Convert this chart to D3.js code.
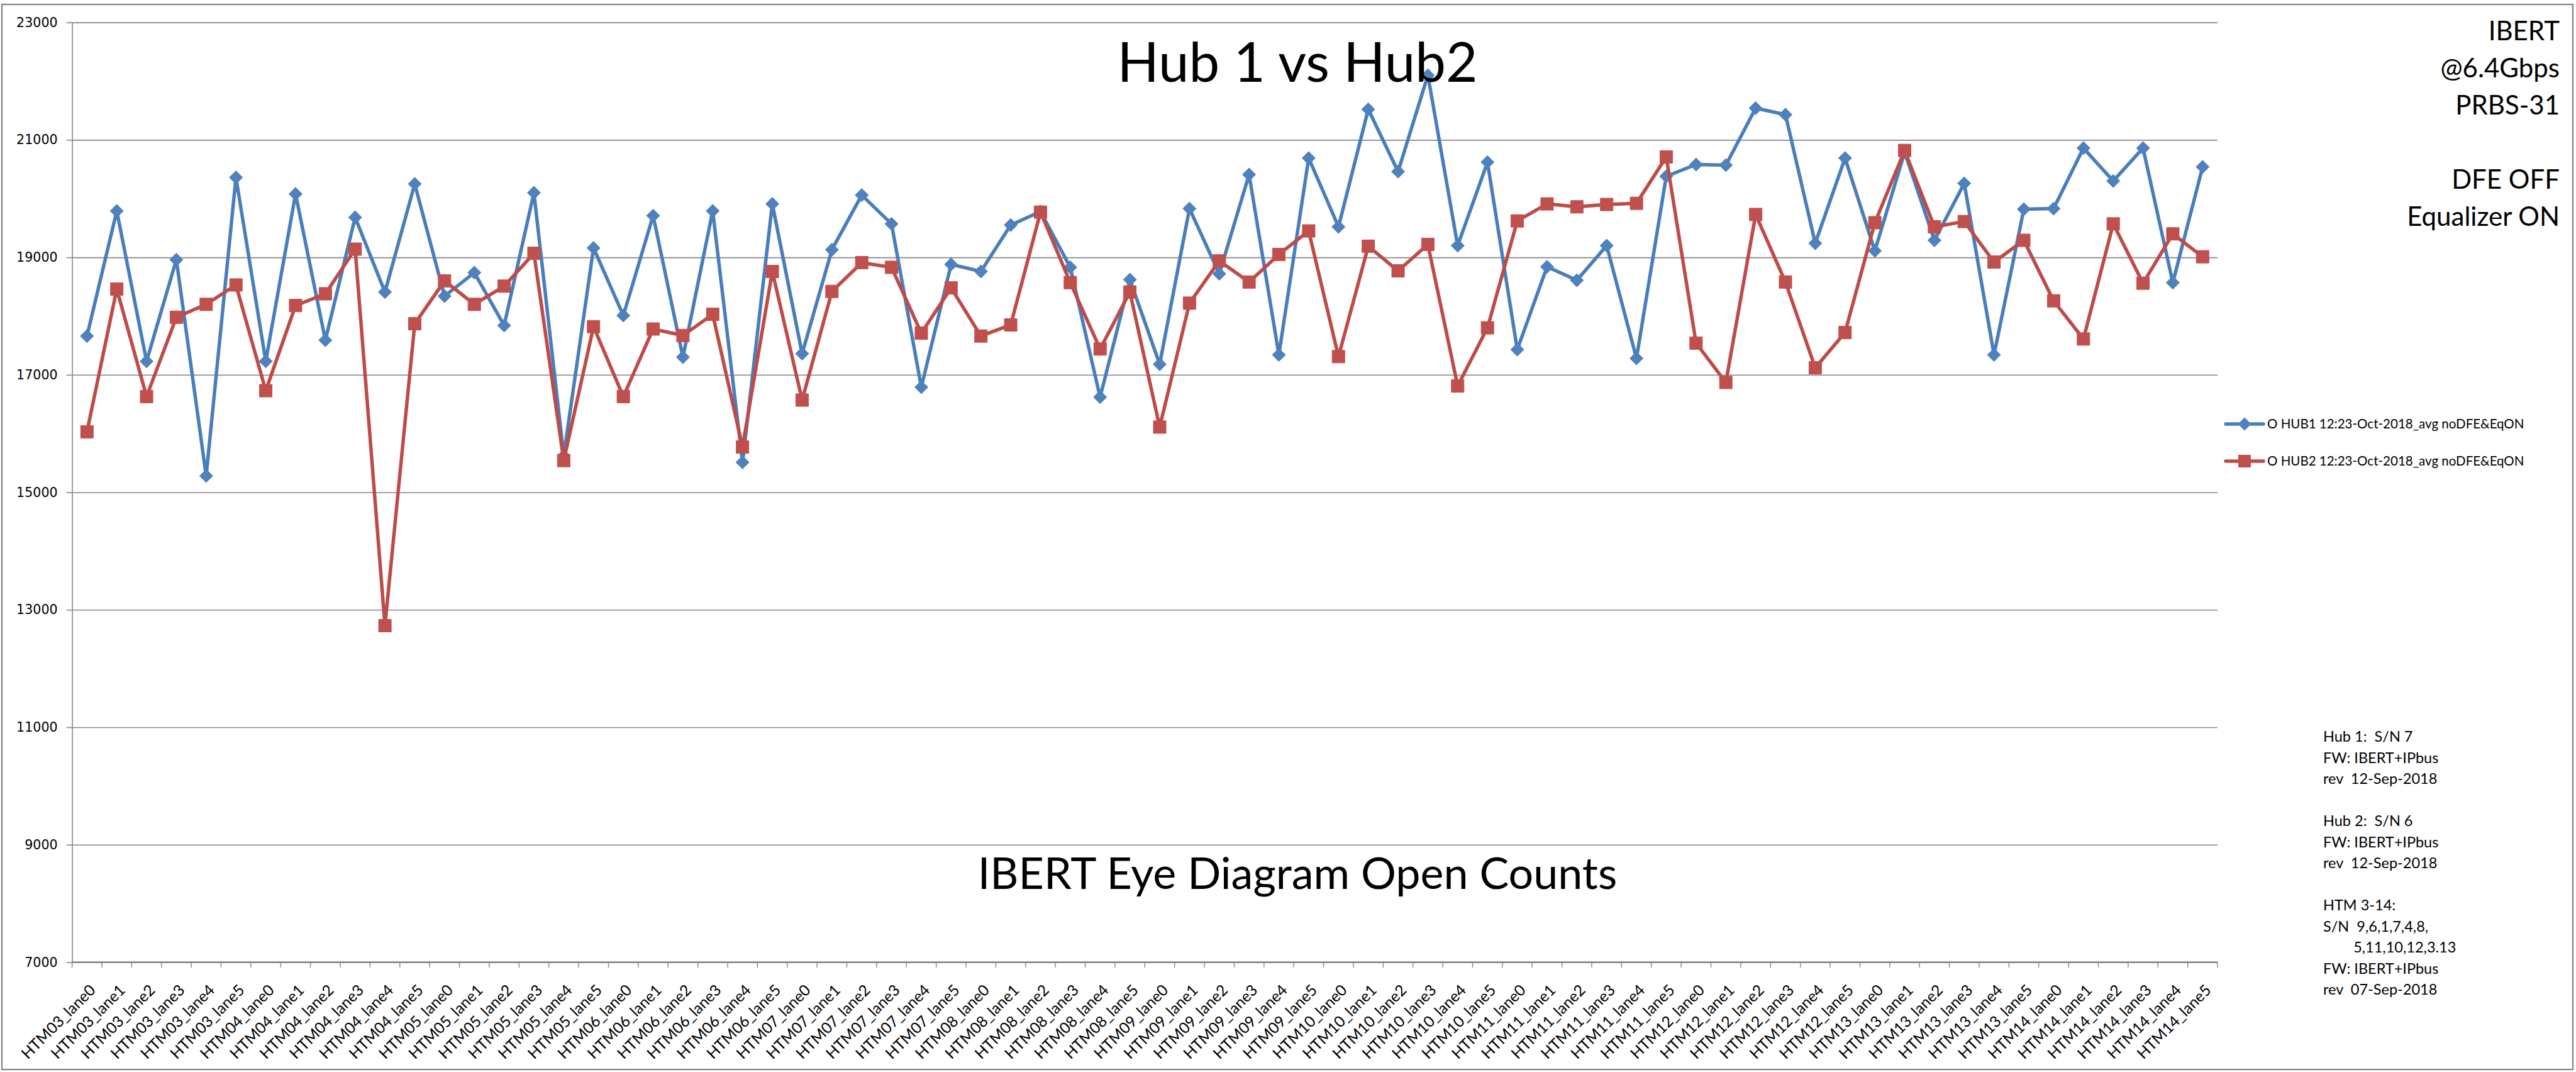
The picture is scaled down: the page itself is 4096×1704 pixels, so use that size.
<!DOCTYPE html>
<html>
<head>
<meta charset="utf-8">
<script src="https://cdn.jsdelivr.net/npm/d3@7"></script>
<style>
  html, body { margin: 0; padding: 0; background: #fff; }
  svg { display: block; }
  text { white-space: pre; }
</style>
</head>
<body>
<div id="chart"></div>
<script>
// ---- data ----
const modules = ["HTM03", "HTM04", "HTM05", "HTM06", "HTM07", "HTM08", "HTM09", "HTM10", "HTM11", "HTM12", "HTM13", "HTM14"];
const lanes = ["lane0", "lane1", "lane2", "lane3", "lane4", "lane5"];
const categories = modules.flatMap((m) => lanes.map((l) => `${m}_${l}`));

const hub1 = [
  17660, 19790, 17230, 18960, 15280, 20360,
  17230, 20080, 17590, 19680, 18410, 20250,
  18340, 18740, 17840, 20100, 15620, 19160,
  18010, 19710, 17300, 19790, 15510, 19910,
  17360, 19130, 20060, 19570, 16790, 18880,
  18760, 19550, 19780, 18830, 16620, 18620,
  17180, 19830, 18720, 20410, 17340, 20690,
  19520, 21520, 20460, 22100, 19200, 20620,
  17430, 18840, 18610, 19200, 17280, 20380,
  20580, 20570, 21540, 21430, 19240, 20690,
  19110, 20790, 19290, 20260, 17340, 19820,
  19830, 20860, 20300, 20860, 18570, 20540
];

const hub2 = [
  16030, 18460, 16630, 17980, 18200, 18530,
  16730, 18180, 18380, 19140, 12730, 17870,
  18600, 18200, 18510, 19070, 15540, 17820,
  16630, 17780, 17670, 18030, 15770, 18760,
  16570, 18420, 18910, 18830, 17710, 18480,
  17660, 17850, 19770, 18570, 17440, 18410,
  16110, 18220, 18940, 18580, 19050, 19450,
  17310, 19190, 18770, 19220, 16810, 17800,
  19620, 19910, 19860, 19900, 19920, 20710,
  17540, 16870, 19730, 18580, 17120, 17720,
  19590, 20820, 19520, 19610, 18920, 19290,
  18260, 17610, 19570, 18560, 19400, 19010
];

const yTicks = [7000, 9000, 11000, 13000, 15000, 17000, 19000, 21000, 23000];
const seriesNames = [
  "O HUB1 12:23-Oct-2018_avg noDFE&EqON",
  "O HUB2 12:23-Oct-2018_avg noDFE&EqON"
];
const titleText = "Hub 1 vs Hub2";
const subtitleText = "IBERT Eye Diagram Open Counts";
const noteTop = ["IBERT", "@6.4Gbps", "PRBS-31", "", "DFE OFF", "Equalizer ON"];
const noteBottom = [
  "Hub 1:  S/N 7", "FW: IBERT+IPbus", "rev  12-Sep-2018", "",
  "Hub 2:  S/N 6", "FW: IBERT+IPbus", "rev  12-Sep-2018", "",
  "HTM 3-14:", "S/N  9,6,1,7,4,8,", "        5,11,10,12,3.13", "FW: IBERT+IPbus", "rev  07-Sep-2018"
];

// ---- layout ----
const width = 4096;
const height = 1704;
const plot = { left: 114.6, right: 3526, top: 35.6, bottom: 1529.5 };
const gridColor = "#868686";
const textFont = "Lato, 'Open Sans', sans-serif";
const colors = [
  { line: "#4A7EBB", marker: "#4F81BD" },
  { line: "#BE4B48", marker: "#C0504D" }
];

// diamond drawn as a square turned 45 degrees, like the spreadsheet marker
const diamond = {
  draw(ctx, size) {
    const r = Math.sqrt(size / 2);
    ctx.moveTo(0, -r);
    ctx.lineTo(r, 0);
    ctx.lineTo(0, r);
    ctx.lineTo(-r, 0);
    ctx.closePath();
  }
};
const symbols = [d3.symbol(diamond, 2 * 10.5 * 10.5), d3.symbol(d3.symbolSquare, 20 * 20)];

const svg = d3
  .select("#chart")
  .append("svg")
  .attr("width", width)
  .attr("height", height);

svg.append("rect").attr("width", width).attr("height", height).attr("fill", "#fff");

// outer chart border
svg
  .append("rect")
  .attr("x", 3)
  .attr("y", 7)
  .attr("width", 4088)
  .attr("height", 1693)
  .attr("fill", "none")
  .attr("stroke", gridColor)
  .attr("stroke-width", 2.3);

const x = d3.scaleBand().domain(categories).range([plot.left, plot.right]);
const y = d3.scaleLinear().domain([7000, 23000]).range([plot.bottom, plot.top]);
const cx = (c) => x(c) + x.bandwidth() / 2;

// gridlines
svg
  .append("g")
  .attr("transform", `translate(${plot.left},0)`)
  .call(d3.axisLeft(y).tickValues(yTicks).tickSize(-(plot.right - plot.left)).tickFormat(""))
  .call((g) => g.select(".domain").remove())
  .selectAll("line")
  .attr("stroke", gridColor)
  .attr("stroke-width", 1.6);

// y axis
svg
  .append("g")
  .attr("transform", `translate(${plot.left},0)`)
  .call(d3.axisLeft(y).tickValues(yTicks).tickSize(9).tickSizeOuter(0).tickPadding(14).tickFormat(d3.format("d")))
  .call((g) => g.select(".domain").attr("stroke", gridColor).attr("stroke-width", 1.6))
  .call((g) => g.selectAll(".tick line").attr("stroke", gridColor).attr("stroke-width", 1.6))
  .call((g) =>
    g
      .selectAll(".tick text")
      .attr("font-family", "'DejaVu Sans', Verdana, sans-serif")
      .attr("font-size", 20.6)
      .attr("fill", "#000")
  );

// x axis line and tick marks at the category edges
svg
  .append("line")
  .attr("x1", plot.left)
  .attr("x2", plot.right)
  .attr("y1", plot.bottom)
  .attr("y2", plot.bottom)
  .attr("stroke", gridColor)
  .attr("stroke-width", 2.4);

svg
  .append("g")
  .selectAll("line")
  .data(categories.map((c) => x(c)).concat([plot.right]))
  .join("line")
  .attr("x1", (d) => d)
  .attr("x2", (d) => d)
  .attr("y1", plot.bottom)
  .attr("y2", plot.bottom + 8.5)
  .attr("stroke", gridColor)
  .attr("stroke-width", 1.4);

// x labels, turned 45 degrees
svg
  .append("g")
  .attr("transform", `translate(0,${plot.bottom})`)
  .call(d3.axisBottom(x).tickSize(0))
  .call((g) => g.select(".domain").remove())
  .selectAll(".tick text")
  .attr("x", null)
  .attr("y", null)
  .attr("dy", null)
  .attr("text-anchor", "end")
  .attr("transform", "translate(15,46) rotate(-45)")
  .attr("font-family", textFont)
  .attr("font-size", 24.5)
  .attr("fill", "#000");

// series
const series = [hub1, hub2];
const line = d3
  .line()
  .x((d, i) => cx(categories[i]))
  .y((d) => y(d));

series.forEach((values, s) => {
  svg
    .append("path")
    .datum(values)
    .attr("fill", "none")
    .attr("stroke", colors[s].line)
    .attr("stroke-width", 5.5)
    .attr("stroke-linejoin", "round")
    .attr("d", line);

  svg
    .append("g")
    .selectAll("path")
    .data(values)
    .join("path")
    .attr("transform", (d, i) => `translate(${cx(categories[i])},${y(d)})`)
    .attr("d", symbols[s])
    .attr("fill", colors[s].marker)
    .attr("stroke", colors[s].marker)
    .attr("stroke-width", 1);
});

// legend
const legend = svg
  .append("g")
  .selectAll("g")
  .data(seriesNames)
  .join("g")
  .attr("transform", (d, i) => `translate(3539,${674 + i * 59})`);

legend
  .append("line")
  .attr("x1", 0)
  .attr("x2", 60)
  .attr("stroke", (d, i) => colors[i].line)
  .attr("stroke-width", 5.5)
  .attr("stroke-linecap", "round");

legend
  .append("path")
  .attr("transform", "translate(30,0)")
  .attr("d", (d, i) => symbols[i]())
  .attr("fill", (d, i) => colors[i].marker);

legend
  .append("text")
  .attr("x", 66)
  .attr("dy", "0.35em")
  .attr("font-family", textFont)
  .attr("font-size", 20.5)
  .attr("fill", "#000")
  .text((d) => d);

// titles
svg
  .append("text")
  .attr("x", 2063)
  .attr("y", 130)
  .attr("text-anchor", "middle")
  .attr("font-family", textFont)
  .attr("font-size", 87)
  .attr("fill", "#000")
  .text(titleText);

svg
  .append("text")
  .attr("x", 2063)
  .attr("y", 1413)
  .attr("text-anchor", "middle")
  .attr("font-family", textFont)
  .attr("font-size", 70)
  .attr("fill", "#000")
  .text(subtitleText);

// notes on the right
svg
  .append("g")
  .selectAll("text")
  .data(noteTop)
  .join("text")
  .attr("x", 4070)
  .attr("y", (d, i) => 64 + i * 59)
  .attr("text-anchor", "end")
  .attr("font-family", textFont)
  .attr("font-size", 42)
  .attr("fill", "#000")
  .text((d) => d);

svg
  .append("g")
  .selectAll("text")
  .data(noteBottom)
  .join("text")
  .attr("x", 3694)
  .attr("y", (d, i) => 1179 + i * 33.5)
  .attr("font-family", textFont)
  .attr("font-size", 23.5)
  .attr("fill", "#000")
  .text((d) => d);
</script>
</body>
</html>
